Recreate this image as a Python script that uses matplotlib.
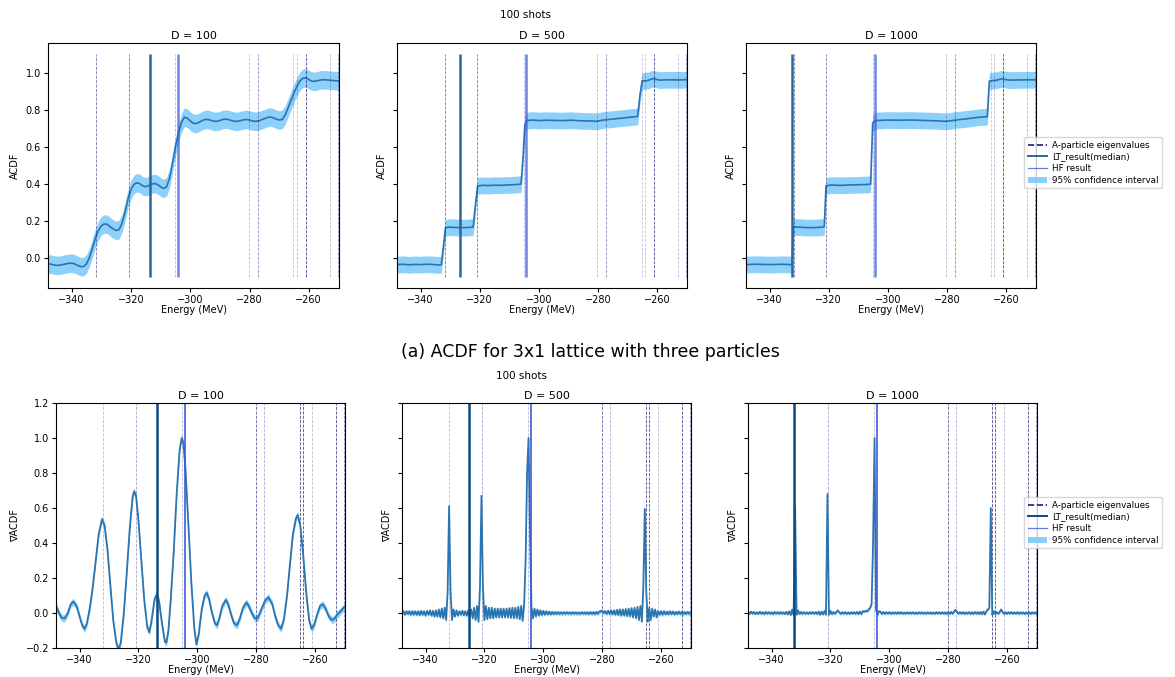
"""ACDF and its gradient for the 3x1 lattice, three D values, 100 shots."""

import matplotlib

matplotlib.use("Agg")
import matplotlib.pyplot as plt
import numpy as np
from matplotlib.lines import Line2D
from matplotlib.patches import Patch

EIG_COLOR = "#1c1c7a"
HF_COLOR = "#3b5bdb"
TOP_LT_COLOR = "#2a6696"
BOT_LT_COLOR = "#0d4a80"
CURVE_COLOR = "#2a74b0"
BAND_COLOR = "#87cefa"

d_values = [100, 500, 1000]
eigenvalues = [-331.9, -320.8, -305.1, -280.2, -277.3, -265.2, -264.1, -261.1, -252.8, -250.2]
hf_result = -304.2
lt_top = [-313.7, -326.7, -332.3]
lt_bottom = [-313.7, -325.2, -332.4]

# ACDF, D = 100 (smooth)
acdf100_e = [-348, -347, -346, -345, -344, -343, -342, -341, -340, -339, -338, -337, -336, -335,
             -334, -333, -332, -331, -330, -329, -328, -327, -326, -325, -324, -323, -322, -321,
             -320, -319, -318, -317, -316, -315, -314, -313, -312, -311, -310, -309, -308, -307,
             -306, -305, -304, -303, -302, -301, -300, -299, -298, -297, -296, -295, -294, -293,
             -292, -291, -290, -289, -288, -287, -286, -285, -284, -283, -282, -281, -280, -279,
             -278, -277, -276, -275, -274, -273, -272, -271, -270, -269, -268, -267, -266, -265,
             -264, -263, -262, -261, -260, -259, -258, -257, -256, -255, -254, -253, -252, -251, -250]
acdf100_v = [-0.030, -0.032, -0.036, -0.038, -0.037, -0.034, -0.030, -0.027, -0.026, -0.030,
             -0.038, -0.045, -0.045, -0.030, 0.005, 0.055, 0.110, 0.150, 0.175, 0.185, 0.183,
             0.170, 0.158, 0.150, 0.155, 0.190, 0.250, 0.320, 0.370, 0.398, 0.407, 0.402, 0.390,
             0.386, 0.392, 0.400, 0.403, 0.397, 0.385, 0.376, 0.385, 0.430, 0.510, 0.600, 0.670,
             0.730, 0.760, 0.755, 0.740, 0.728, 0.726, 0.733, 0.742, 0.748, 0.748, 0.743, 0.738,
             0.738, 0.742, 0.748, 0.750, 0.747, 0.742, 0.738, 0.738, 0.742, 0.746, 0.748, 0.745,
             0.740, 0.738, 0.740, 0.746, 0.752, 0.758, 0.762, 0.757, 0.750, 0.745, 0.748, 0.770,
             0.810, 0.850, 0.890, 0.925, 0.955, 0.970, 0.972, 0.963, 0.955, 0.953, 0.957, 0.961,
             0.962, 0.961, 0.960, 0.958, 0.957, 0.956]

# ACDF, D = 500 (steps)
acdf500_e = [-348.0, -346.0, -344.0, -342.0, -340.0, -338.0, -336.0, -334.0, -333.0, -332.3,
             -331.6, -330.0, -328.0, -326.0, -324.0, -322.2, -321.5, -320.7, -319.0, -317.0,
             -315.0, -313.0, -311.0, -309.0, -307.0, -306.0, -305.3, -304.7, -304.0, -302.0,
             -300.0, -298.0, -295.0, -292.0, -289.0, -286.0, -283.0, -280.5, -278.0, -275.0,
             -272.0, -269.0, -266.5, -265.8, -265.0, -263.0, -261.5, -259.0, -256.0, -253.0, -250.0]
acdf500_v = [-0.034, -0.032, -0.035, -0.033, -0.034, -0.032, -0.033, -0.036, -0.035, 0.060,
             0.165, 0.168, 0.166, 0.165, 0.166, 0.168, 0.280, 0.390, 0.393, 0.392,
             0.394, 0.393, 0.395, 0.396, 0.398, 0.400, 0.550, 0.720, 0.742, 0.745,
             0.742, 0.744, 0.743, 0.742, 0.744, 0.741, 0.740, 0.738, 0.745, 0.750,
             0.755, 0.760, 0.764, 0.870, 0.955, 0.958, 0.968, 0.960, 0.962, 0.961, 0.962]

# ACDF, D = 1000 (steps)
acdf1000_e = [-348.0, -345.0, -342.0, -339.0, -336.0, -333.0, -332.4, -332.0, -330.0, -328.0,
              -326.0, -324.0, -322.0, -321.5, -320.9, -319.0, -316.0, -313.0, -310.0, -307.0,
              -305.8, -305.1, -304.0, -300.0, -296.0, -292.0, -288.0, -284.0, -280.0, -277.0,
              -273.0, -269.0, -266.3, -265.6, -263.0, -261.5, -259.0, -255.0, -250.0]
acdf1000_v = [-0.034, -0.032, -0.033, -0.034, -0.032, -0.034, -0.035, 0.170, 0.168, 0.166,
              0.165, 0.166, 0.168, 0.170, 0.390, 0.395, 0.393, 0.395, 0.396, 0.398,
              0.400, 0.730, 0.742, 0.745, 0.744, 0.745, 0.743, 0.741, 0.738, 0.745,
              0.752, 0.760, 0.763, 0.955, 0.960, 0.967, 0.960, 0.961, 0.962]

acdf_ci_halfwidth = [0.05, 0.045, 0.045]

# gradient of ACDF, D = 100 (smooth)
grad100_e = [-348.0, -347.0, -346.0, -345.0, -344.0, -343.0, -342.2, -341.0, -340.0, -339.0,
             -338.3, -337.5, -336.5, -335.5, -334.5, -333.5, -332.4, -331.5, -330.5, -329.5,
             -328.5, -327.5, -326.8, -326.0, -325.0, -324.0, -323.0, -322.0, -321.5, -320.8,
             -320.0, -319.0, -318.0, -317.0, -316.3, -315.5, -314.5, -313.8, -313.0, -312.0,
             -311.0, -310.5, -309.8, -309.0, -308.0, -307.0, -306.0, -305.3, -304.7, -304.0,
             -303.0, -302.0, -301.0, -300.3, -299.5, -298.5, -297.5, -296.8, -296.0, -295.0,
             -294.0, -293.3, -292.5, -291.5, -290.3, -289.5, -288.5, -287.5, -286.5, -285.5,
             -284.5, -283.3, -282.5, -281.5, -280.5, -279.5, -278.5, -277.0, -275.8, -274.5,
             -273.5, -272.5, -271.5, -270.5, -269.5, -268.5, -267.5, -266.5, -265.9, -265.0,
             -264.0, -263.0, -262.0, -261.2, -260.3, -259.3, -258.3, -257.3, -256.3, -255.3,
             -254.3, -253.5, -252.5, -251.3, -250.0]
grad100_v = [0.040, 0.000, -0.030, -0.030, 0.000, 0.050, 0.065, 0.040, -0.020, -0.075,
             -0.090, -0.060, 0.030, 0.150, 0.300, 0.450, 0.535, 0.500, 0.360, 0.150,
             -0.050, -0.170, -0.210, -0.170, -0.010, 0.220, 0.470, 0.660, 0.695, 0.670,
             0.530, 0.300, 0.070, -0.080, -0.110, -0.040, 0.080, 0.105, 0.070, -0.060,
             -0.165, -0.170, -0.100, 0.080, 0.350, 0.680, 0.930, 1.000, 0.970, 0.820,
             0.500, 0.170, -0.090, -0.180, -0.120, 0.020, 0.100, 0.115, 0.080, 0.000,
             -0.060, -0.070, -0.030, 0.040, 0.075, 0.050, -0.010, -0.060, -0.070, -0.030,
             0.030, 0.060, 0.040, 0.000, -0.030, -0.030, 0.010, 0.070, 0.090, 0.050,
             -0.020, -0.070, -0.090, -0.030, 0.100, 0.280, 0.450, 0.540, 0.560, 0.500,
             0.330, 0.120, -0.040, -0.090, -0.070, -0.010, 0.040, 0.050, 0.020, -0.020,
             -0.040, -0.035, -0.010, 0.010, 0.035]

# gradient of ACDF, D = 500 and D = 1000: read every 0.5 MeV from -348 to -250
grad_grid_start = -348.0
grad_grid_step = 0.5
grad500_v = [
    0.000, 0.010, -0.010, 0.010, -0.005, 0.010, -0.010, 0.010, -0.010, 0.010,      # -348
    -0.010, 0.010, -0.012, 0.012, -0.010, 0.010, -0.015, 0.012, -0.010, 0.015,     # -343
    -0.015, 0.012, -0.020, 0.015, -0.020, 0.020, -0.025, 0.025, -0.030, 0.030,     # -338
    -0.040, 0.120, 0.610, 0.120, -0.040, 0.020, -0.020, 0.015, -0.015, 0.010,      # -333
    -0.010, 0.012, -0.012, 0.010, -0.015, 0.015, -0.020, 0.020, -0.030, 0.030,     # -328
    -0.040, 0.040, -0.050, 0.150, 0.670, 0.150, -0.040, 0.040, -0.035, 0.030,      # -323
    -0.030, 0.030, -0.030, 0.025, -0.025, 0.025, -0.025, 0.025, -0.025, 0.025,     # -318
    -0.025, 0.025, -0.025, 0.028, -0.028, 0.030, -0.030, 0.030, -0.030, 0.035,     # -313
    -0.035, 0.040, -0.045, 0.050, 0.300, 0.800, 1.000, 0.450, 0.030, -0.030,       # -308
    0.025, -0.020, 0.020, -0.015, 0.015, -0.012, 0.012, -0.010, 0.010, -0.008,     # -303
    0.008, -0.008, 0.006, -0.006, 0.005, -0.005, 0.005, -0.005, 0.004, -0.004,     # -298
    0.004, -0.004, 0.004, -0.003, 0.003, -0.004, 0.004, -0.003, 0.003, -0.004,     # -293
    0.003, -0.004, 0.004, -0.003, 0.003, -0.004, 0.004, -0.005, 0.005, -0.005,     # -288
    0.005, -0.006, 0.006, -0.005, 0.008, 0.010, 0.012, 0.000, 0.010, -0.005,       # -283
    0.012, -0.005, 0.015, -0.008, 0.015, -0.010, 0.018, -0.012, 0.020, -0.015,     # -278
    0.020, -0.015, 0.022, -0.018, 0.025, -0.020, 0.028, -0.025, 0.030, -0.030,     # -273
    0.035, -0.040, 0.040, -0.050, 0.150, 0.595, 0.120, -0.050, 0.030, -0.040,      # -268
    0.025, -0.020, 0.020, -0.025, 0.012, -0.010, 0.010, -0.010, 0.010, -0.008,     # -263
    0.008, -0.008, 0.010, -0.006, 0.008, -0.008, 0.006, -0.006, 0.008, -0.005,     # -258
    0.006, -0.006, 0.005, -0.005, 0.006, -0.004, 0.004,                            # -253
]
grad1000_v = [
    0.005, -0.005, 0.008, -0.004, 0.006, -0.006, 0.004, -0.005, 0.007, -0.004,     # -348
    0.005, -0.006, 0.006, -0.004, 0.005, -0.005, 0.004, -0.006, 0.006, -0.004,     # -343
    0.005, -0.005, 0.006, -0.005, 0.004, -0.006, 0.007, -0.008, 0.010, -0.012,     # -338
    0.020, -0.010, 0.610, -0.010, 0.015, -0.006, 0.006, -0.005, 0.005, -0.004,     # -333
    0.004, -0.005, 0.005, -0.004, 0.006, -0.005, 0.005, -0.006, 0.008, -0.010,     # -328
    0.008, -0.008, 0.012, -0.010, 0.680, -0.010, 0.012, -0.006, 0.006, -0.005,     # -323
    0.005, 0.015, 0.004, -0.005, 0.005, -0.004, 0.005, -0.005, 0.004, -0.005,      # -318
    0.005, -0.004, 0.005, -0.005, 0.006, -0.006, 0.008, -0.006, 0.010, 0.008,      # -313
    0.012, 0.010, 0.020, 0.030, 0.050, 0.400, 1.000, 0.020, -0.010, 0.010,         # -308
    0.008, -0.006, 0.006, -0.005, 0.005, -0.004, 0.005, -0.005, 0.004, -0.004,     # -303
    0.004, -0.004, 0.005, -0.003, 0.004, -0.004, 0.003, -0.004, 0.004, -0.003,     # -298
    0.004, -0.003, 0.004, -0.004, 0.003, -0.004, 0.004, -0.003, 0.004, -0.004,     # -293
    0.003, -0.004, 0.004, -0.003, 0.004, -0.004, 0.003, -0.004, 0.005, -0.003,     # -288
    0.004, -0.004, 0.005, -0.004, 0.004, -0.005, 0.005, -0.004, 0.006, -0.004,     # -283
    0.008, 0.018, 0.006, -0.004, 0.005, -0.004, 0.005, -0.005, 0.004, -0.004,      # -278
    0.005, -0.005, 0.004, -0.005, 0.006, -0.004, 0.005, -0.006, 0.006, -0.006,     # -273
    0.008, -0.008, 0.010, 0.020, 0.030, 0.600, -0.010, 0.010, -0.005, 0.005,       # -268
    -0.005, 0.006, 0.020, 0.005, -0.005, 0.004, -0.004, 0.005, -0.004, 0.005,      # -263
    -0.004, 0.004, -0.004, 0.005, -0.005, 0.004, -0.004, 0.004, -0.005, 0.004,     # -258
    -0.004, 0.004, -0.005, 0.004, -0.003, 0.004, -0.004,                           # -253
]
grad_ci_halfwidth = [0.02, 0.012, 0.008]

# line transparency of the eigenvalue markers, per row
eig_alpha_top = [0.6, 0.6, 0.3, 0.3, 0.5, 0.25, 0.3, 0.8, 0.3, 0.5]
eig_alpha_bottom = [0.3, 0.4, 0.3, 0.7, 0.35, 0.8, 0.8, 0.3, 0.8, 0.5]

XLIM = (-348.0, -249.8)
FIG_W, FIG_H = 1175, 677


def px_rect(left, top, right, bottom):
    return [left / FIG_W, 1 - bottom / FIG_H, (right - left) / FIG_W, (bottom - top) / FIG_H]


def legend_handles(lt_color):
    return [
        Line2D([], [], color=EIG_COLOR, linestyle="--", linewidth=1.2),
        Line2D([], [], color=lt_color, linewidth=1.4),
        Line2D([], [], color=HF_COLOR, linewidth=0.9, alpha=0.8),
        Patch(facecolor=BAND_COLOR, edgecolor="none"),
    ]


legend_labels = ["A-particle eigenvalues", "LT_result(median)", "HF result",
                 "95% confidence interval"]

figure = plt.figure(figsize=(FIG_W / 100, FIG_H / 100), dpi=100)

top_rects = [px_rect(48, 43, 339, 288), px_rect(397, 43, 687, 288), px_rect(746, 43, 1036, 288)]
bottom_rects = [px_rect(56, 403, 345, 648), px_rect(402, 403, 691, 648), px_rect(748, 403, 1037, 648)]

acdf_series = [(acdf100_e, acdf100_v), (acdf500_e, acdf500_v), (acdf1000_e, acdf1000_v)]
grad_energy = grad_grid_start + grad_grid_step * np.arange(len(grad500_v))
grad_series = [(grad100_e, grad100_v), (grad_energy, grad500_v), (grad_energy, grad1000_v)]


def style_axis(axis, d_value, ylabel, show_ylabels):
    axis.set_xlim(XLIM)
    axis.set_xticks([-340, -320, -300, -280, -260])
    axis.tick_params(labelsize=7, length=3, pad=2)
    axis.set_title("D = " + str(d_value), fontsize=8, pad=3)
    axis.set_xlabel("Energy (MeV)", fontsize=7, labelpad=0)
    axis.set_ylabel(ylabel, fontsize=7)
    if not show_ylabels:
        axis.tick_params(labelleft=False)


# top row: ACDF
top_axes = []
for index, rect in enumerate(top_rects):
    axis = figure.add_axes(rect, sharey=top_axes[0] if top_axes else None)
    energy = np.asarray(acdf_series[index][0], dtype=float)
    median = np.asarray(acdf_series[index][1], dtype=float)
    half = acdf_ci_halfwidth[index]
    axis.fill_between(energy, median - half, median + half, color=BAND_COLOR,
                      linewidth=0, alpha=0.95)
    axis.plot(energy, median, color=CURVE_COLOR, linewidth=1.2)
    for eig, alpha in zip(eigenvalues, eig_alpha_top):
        axis.vlines(eig, -0.1, 1.1, colors=EIG_COLOR, linestyles="--", linewidth=0.6, alpha=alpha)
    axis.vlines(hf_result, -0.1, 1.1, colors=HF_COLOR, linewidth=1.8, alpha=0.75)
    axis.vlines(lt_top[index], -0.1, 1.1, colors=TOP_LT_COLOR, linewidth=1.8)
    axis.set_ylim(-0.16, 1.16)
    axis.set_yticks([0.0, 0.2, 0.4, 0.6, 0.8, 1.0])
    style_axis(axis, d_values[index], "ACDF", index == 0)
    top_axes.append(axis)

# bottom row: gradient of ACDF
bottom_axes = []
for index, rect in enumerate(bottom_rects):
    axis = figure.add_axes(rect, sharey=bottom_axes[0] if bottom_axes else None)
    energy = np.asarray(grad_series[index][0], dtype=float)
    median = np.asarray(grad_series[index][1], dtype=float)
    half = grad_ci_halfwidth[index]
    for eig, alpha in zip(eigenvalues, eig_alpha_bottom):
        axis.axvline(eig, color=EIG_COLOR, linestyle="--", linewidth=0.6, alpha=alpha)
    axis.fill_between(energy, median - half, median + half, color=BAND_COLOR,
                      linewidth=0, alpha=0.95)
    axis.plot(energy, median, color=CURVE_COLOR, linewidth=1.3)
    axis.axvline(hf_result, color=HF_COLOR, linewidth=1.4, alpha=0.85)
    axis.axvline(lt_bottom[index], color=BOT_LT_COLOR, linewidth=1.8)
    axis.set_ylim(-0.2, 1.2)
    axis.set_yticks([-0.2, 0.0, 0.2, 0.4, 0.6, 0.8, 1.0, 1.2])
    style_axis(axis, d_values[index], "\u2207ACDF", index == 0)
    bottom_axes.append(axis)

figure.text(525 / FIG_W, 1 - 15 / FIG_H, "100 shots", ha="center", va="center", fontsize=7.5)
figure.text(522 / FIG_W, 1 - 376 / FIG_H, "100 shots", ha="center", va="center", fontsize=7.5)
figure.text(590 / FIG_W, 1 - 352 / FIG_H, "(a) ACDF for 3x1 lattice with three particles",
            ha="center", va="center", fontsize=12.5)

figure.legend(legend_handles(TOP_LT_COLOR), legend_labels, loc="upper left",
              bbox_to_anchor=(1020 / FIG_W, 1 - 133 / FIG_H), fontsize=6.3,
              borderpad=0.4, labelspacing=0.3, handlelength=2.2, handletextpad=0.6)
figure.legend(legend_handles(BOT_LT_COLOR), legend_labels, loc="upper left",
              bbox_to_anchor=(1020 / FIG_W, 1 - 493 / FIG_H), fontsize=6.3,
              borderpad=0.4, labelspacing=0.3, handlelength=2.2, handletextpad=0.6)

figure.savefig("out.png", dpi=100)
plt.close(figure)
